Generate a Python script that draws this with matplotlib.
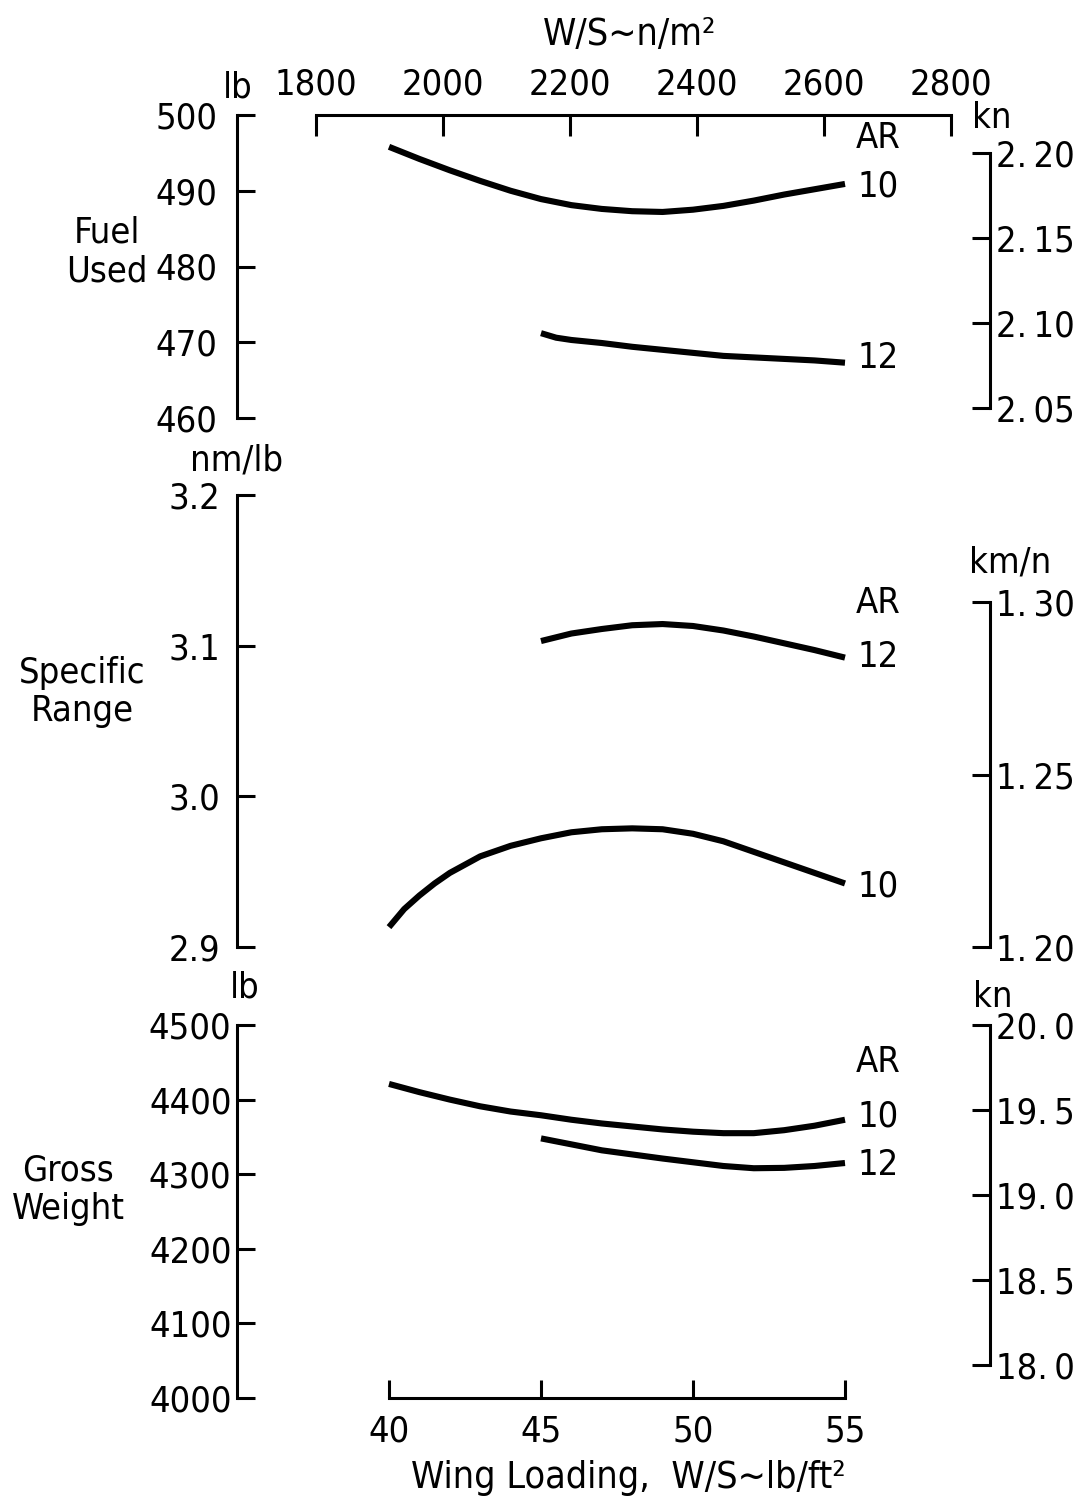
import matplotlib
matplotlib.use("Agg")
import matplotlib.pyplot as plt

plt.rcParams['font.family'] = ['DejaVu Sans']
plt.rcParams['font.stretch'] = 'condensed'
plt.rcParams['font.size'] = 26

# wing loading, lb/ft^2, and the three trade curves per aspect ratio
ws_fuel_ar10 = [40, 41, 42, 43, 44, 45, 46, 47, 48, 49, 50, 51, 52, 53, 54, 55]
fuel_ar10 = [495.8, 494.2, 492.7, 491.3, 490.0, 488.9, 488.1, 487.6, 487.3, 487.2,
             487.5, 488.0, 488.7, 489.5, 490.2, 490.9]
ws_fuel_ar12 = [45, 45.5, 46, 47, 48, 49, 50, 51, 52, 53, 54, 55]
fuel_ar12 = [471.2, 470.6, 470.3, 469.9, 469.4, 469.0, 468.6, 468.2, 468.0, 467.8, 467.6, 467.3]

ws_sr_ar12 = [45, 46, 47, 48, 49, 50, 51, 52, 53, 54, 55]
sr_ar12 = [3.103, 3.108, 3.111, 3.1135, 3.1143, 3.113, 3.110, 3.106, 3.1015, 3.097, 3.092]
ws_sr_ar10 = [40, 40.5, 41, 41.5, 42, 43, 44, 45, 46, 47, 48, 49, 50, 51, 52, 53, 54, 55]
sr_ar10 = [2.913, 2.925, 2.934, 2.942, 2.949, 2.960, 2.967, 2.972, 2.976, 2.978, 2.9786,
           2.978, 2.975, 2.970, 2.963, 2.956, 2.949, 2.942]

ws_gw_ar10 = [40, 41, 42, 43, 44, 45, 46, 47, 48, 49, 50, 51, 52, 53, 54, 55]
gw_ar10 = [4421, 4410, 4400, 4391, 4384, 4379, 4373, 4368, 4364, 4360, 4357, 4355,
           4355, 4359, 4365, 4373]
ws_gw_ar12 = [45, 46, 47, 48, 49, 50, 51, 52, 53, 54, 55]
gw_ar12 = [4348, 4340, 4332, 4326.5, 4321, 4316, 4311, 4308, 4308.5, 4311, 4315]

fuel_ticks = [460, 470, 480, 490, 500]
fuel_kn_ticks = [2.05, 2.10, 2.15, 2.20]
fuel_kn_labels = ['2.\u200905', '2.\u200910', '2.\u200915', '2.\u200920']
sr_ticks = [2.9, 3.0, 3.1, 3.2]
sr_labels = ['2.9', '3.0', '3.1', '3.2']
sr_si_ticks = [1.20, 1.25, 1.30]
sr_si_labels = ['1.\u200920', '1.\u200925', '1.\u200930']
gw_ticks = [4000, 4100, 4200, 4300, 4400, 4500]
gw_kn_ticks = [18.0, 18.5, 19.0, 19.5, 20.0]
gw_kn_labels = ['18.\u20090', '18.\u20095', '19.\u20090', '19.\u20095', '20.\u20090']
ws_ticks = [40, 45, 50, 55]
nm2_ticks = [1800, 2000, 2200, 2400, 2600, 2800]

W, H = 1089, 1509
LW = 2.2
TL = 13

fig = plt.figure(figsize=(W / 100, H / 100), dpi=100)


def fx(px):
    return px / W


def fy(py):
    return 1 - py / H


def panel(top, bottom, pad):
    ax = fig.add_axes([fx(237), fy(bottom), fx(990) - fx(237), (bottom - top) / H])
    ax.set_xlim(35.0, 59.77)
    for s in ['top', 'right', 'bottom']:
        ax.spines[s].set_visible(False)
    ax.spines['left'].set_linewidth(LW)
    ax.tick_params(axis='y', direction='in', length=TL, width=LW, pad=pad)
    ax.tick_params(axis='x', bottom=False, labelbottom=False)
    return ax


def right_axis(ax, lim, ticks, labels):
    t = ax.twinx()
    t.set_ylim(*lim)
    for s in ['top', 'left', 'bottom']:
        t.spines[s].set_visible(False)
    t.spines['right'].set_linewidth(LW)
    t.spines['right'].set_bounds(ticks[0], ticks[-1])
    t.set_yticks(ticks)
    t.set_yticklabels(labels)
    t.tick_params(axis='y', direction='in', length=TL, width=LW, pad=4)
    return t


line_kw = dict(color='black', lw=4.4, solid_capstyle='butt', solid_joinstyle='round')

# Fuel used
ax1 = panel(115, 418, 14)
ax1.set_ylim(460, 500)
ax1.spines['left'].set_bounds(460, 500)
ax1.set_yticks(fuel_ticks)
ax1.plot(ws_fuel_ar10, fuel_ar10, **line_kw)
ax1.plot(ws_fuel_ar12, fuel_ar12, **line_kw)
ax1.text(56.1, 496.96, 'AR', ha='center', va='center')
ax1.text(56.1, 490.6, '10', ha='center', va='center')
ax1.text(56.1, 467.9, '12', ha='center', va='center')
right_axis(ax1, (2.0443, 2.2225), fuel_kn_ticks, fuel_kn_labels)

sec = ax1.secondary_xaxis('top', functions=(lambda x: x * 47.88, lambda x: x / 47.88))
sec.set_xticks(nm2_ticks)
sec.spines['top'].set_linewidth(LW)
sec.spines['top'].set_bounds(1800, 2800)
sec.tick_params(direction='in', length=15, width=LW, pad=10)

# Specific range
ax2 = panel(495, 946.7, 12)
ax2.set_ylim(2.9, 3.2)
ax2.spines['left'].set_bounds(2.9, 3.2)
ax2.set_yticks(sr_ticks)
ax2.set_yticklabels(sr_labels)
ax2.plot(ws_sr_ar12, sr_ar12, **line_kw)
ax2.plot(ws_sr_ar10, sr_ar10, **line_kw)
ax2.text(56.1, 3.128, 'AR', ha='center', va='center')
ax2.text(56.1, 3.0924, '12', ha='center', va='center')
ax2.text(56.1, 2.9397, '10', ha='center', va='center')
right_axis(ax2, (1.2032, 1.3312), sr_si_ticks, sr_si_labels)

# Gross weight
ax3 = panel(1025, 1398, 4)
ax3.set_ylim(4000, 4500)
ax3.spines['left'].set_bounds(4000, 4500)
ax3.set_yticks(gw_ticks)
ax3.plot(ws_gw_ar10, gw_ar10, **line_kw)
ax3.plot(ws_gw_ar12, gw_ar12, **line_kw)
ax3.text(56.1, 4450, 'AR', ha='center', va='center')
ax3.text(56.1, 4377, '10', ha='center', va='center')
ax3.text(56.1, 4312, '12', ha='center', va='center')
right_axis(ax3, (17.806, 20.0), gw_kn_ticks, gw_kn_labels)

ax3.spines['bottom'].set_visible(True)
ax3.spines['bottom'].set_linewidth(LW)
ax3.spines['bottom'].set_bounds(40, 55)
ax3.set_xticks(ws_ticks)
ax3.tick_params(axis='x', bottom=True, labelbottom=True, direction='in',
                length=TL, width=LW, pad=12)

# panel titles and units
fig.text(fx(107), fy(252), 'Fuel\nUsed', ha='center', va='center', linespacing=1.15)
fig.text(fx(82), fy(692), 'Specific\nRange', ha='center', va='center', linespacing=1.15)
fig.text(fx(68), fy(1190), 'Gross\nWeight', ha='center', va='center', linespacing=1.15)
fig.text(fx(238), fy(88), 'lb', ha='center', va='center')
fig.text(fx(237), fy(460), 'nm/lb', ha='center', va='center')
fig.text(fx(245), fy(987), 'lb', ha='center', va='center')
fig.text(fx(992), fy(118), 'kn', ha='center', va='center')
fig.text(fx(1010), fy(563), 'km/n', ha='center', va='center')
fig.text(fx(993), fy(997), 'kn', ha='center', va='center')
fig.text(fx(630), fy(35), 'W/S\u223cn/m²', ha='center', va='center', fontsize=27)
fig.text(fx(628), fy(1478), 'Wing Loading,  W/S\u223clb/ft²', ha='center', va='center',
         fontsize=27)

fig.savefig('out.png', dpi=100)
